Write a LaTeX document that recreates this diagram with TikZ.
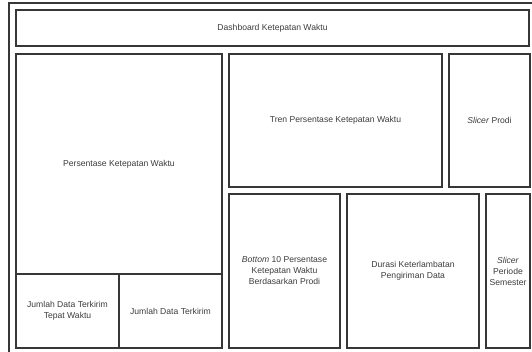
\documentclass[tikz,border=0pt]{standalone}
\usepackage{fontspec}
\setmainfont{Liberation Sans}
\begin{document}
\begin{tikzpicture}[x=1pt,y=-1pt,
  panel/.style={draw={rgb,255:red,55;green,55;blue,55}, line width=1.3pt, rectangle,
    inner sep=1pt, align=center, text={rgb,255:red,60;green,60;blue,60},
    font=\fontsize{8.6}{11}\selectfont},
  frame/.style={draw={rgb,255:red,55;green,55;blue,55}, line width=1.3pt}]
\useasboundingbox (0,0) rectangle (532,351);
\clip (0,0) rectangle (532,351);
% outer page frame, running past the right and bottom edges
\draw[frame] (9,3) rectangle (545,362);
% header
\node[panel, minimum width=513pt, minimum height=36pt] (title) at (272.5,28) {Dashboard Ketepatan Waktu};
% left column
\node[panel, minimum width=206pt, minimum height=220pt] (pkw) at (119,164) {Persentase Ketepatan Waktu};
\node[panel, minimum width=103pt, minimum height=74pt] (jtw) at (67.5,311) {Jumlah Data Terkirim\\Tepat Waktu};
\node[panel, minimum width=103pt, minimum height=74pt] (jdt) at (170.5,311) {Jumlah Data Terkirim};
% upper right row
\node[panel, minimum width=213pt, minimum height=133pt] (tren) at (335.5,120.5) {Tren Persentase Ketepatan Waktu};
\node[panel, minimum width=81pt, minimum height=133pt] (sprodi) at (489.5,120.5) {\textit{Slicer} Prodi};
% lower right row
\node[panel, minimum width=111pt, minimum height=154pt] (bottom) at (284.5,271) {\textit{Bottom} 10 Persentase\\Ketepatan Waktu\\Berdasarkan Prodi};
\node[panel, minimum width=132pt, minimum height=154pt] (durasi) at (413,271) {Durasi Keterlambatan\\Pengiriman Data};
\node[panel, minimum width=44pt, minimum height=154pt] (speriode) at (508,271) {\textit{Slicer}\\Periode\\Semester};
\end{tikzpicture}
\end{document}
